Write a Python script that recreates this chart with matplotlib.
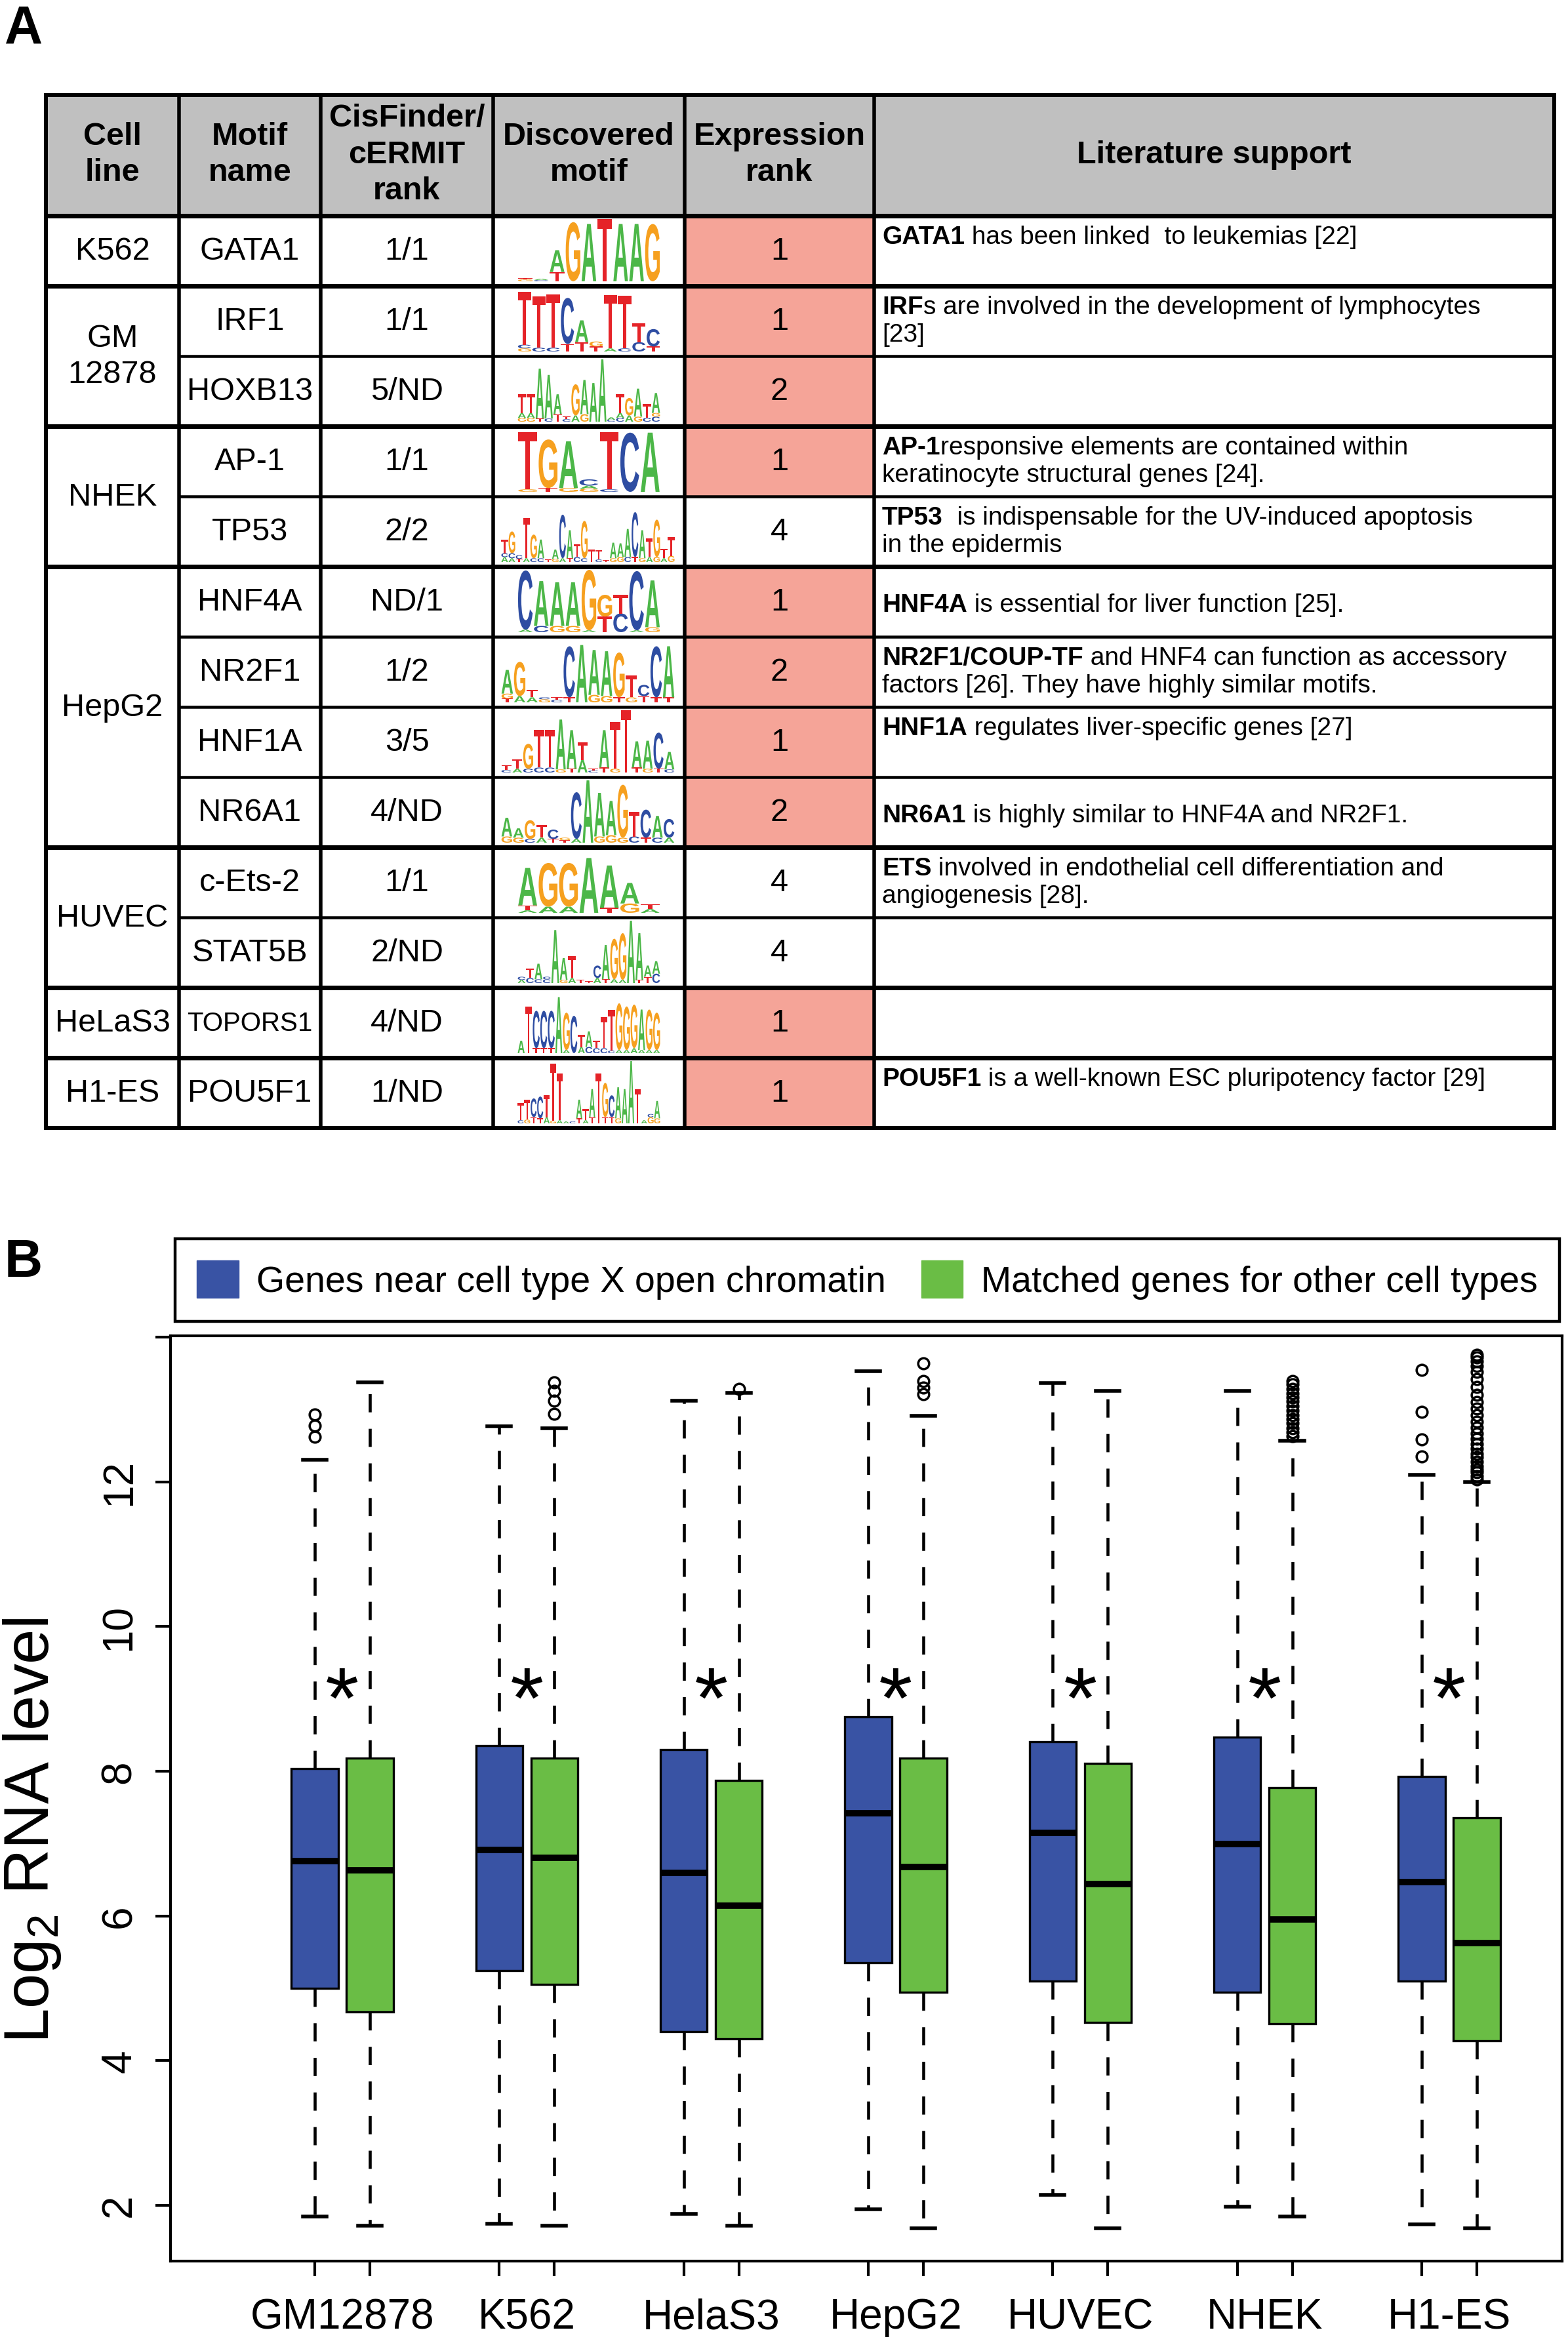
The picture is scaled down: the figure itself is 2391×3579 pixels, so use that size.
import re
import numpy as np
import matplotlib
matplotlib.use('Agg')
import matplotlib.pyplot as plt
from matplotlib.patches import Rectangle, PathPatch, Patch
from matplotlib.textpath import TextPath
from matplotlib.font_manager import FontProperties
from matplotlib.transforms import Affine2D

plt.rcParams['font.family'] = ['Liberation Sans', 'DejaVu Sans']
plt.rcParams['mathtext.default'] = 'regular'
plt.rcParams['lines.scale_dashes'] = False

# ---------------- panel A data ----------------
header_labels = ['Cell\nline', 'Motif\nname', 'CisFinder/\ncERMIT\nrank',
                 'Discovered\nmotif', 'Expression\nrank', 'Literature support']
cell_lines = ['K562', 'GM\n12878', 'NHEK', 'HepG2', 'HUVEC', 'HeLaS3', 'H1-ES']
cell_spans = [1, 2, 2, 4, 2, 1, 1]
motif_names = ['GATA1', 'IRF1', 'HOXB13', 'AP-1', 'TP53', 'HNF4A', 'NR2F1',
               'HNF1A', 'NR6A1', 'c-Ets-2', 'STAT5B', 'TOPORS1', 'POU5F1']
finder_rank = ['1/1', '1/1', '5/ND', '1/1', '2/2', 'ND/1', '1/2',
               '3/5', '4/ND', '1/1', '2/ND', '4/ND', '1/ND']
expr_rank = [1, 1, 2, 1, 4, 1, 2, 1, 2, 4, 4, 1, 1]
lit_support = [
    [('GATA1', ' has been linked  to leukemias [22]')],
    [('IRF', 's are involved in the development of lymphocytes'), ('', '[23]')],
    [],
    [('AP-1', 'responsive elements are contained within'),
     ('', 'keratinocyte structural genes [24].')],
    [('TP53', '  is indispensable for the UV-induced apoptosis'), ('', 'in the epidermis')],
    [('HNF4A', ' is essential for liver function [25].')],
    [('NR2F1/COUP-TF', ' and HNF4 can function as accessory'),
     ('', 'factors [26]. They have highly similar motifs.')],
    [('HNF1A', ' regulates liver-specific genes [27]')],
    [('NR6A1', ' is highly similar to HNF4A and NR2F1.')],
    [('ETS', ' involved in endothelial cell differentiation and'), ('', 'angiogenesis [28].')],
    [],
    [],
    [('POU5F1', ' is a well-known ESC pluripotency factor [29]')],
]
# sequence logos: per column, letters bottom->top with height in % of 2 bits
logos = [
    "G3T2 C2A2 T15A35 G95 A92 T100 A92 A92 G92",
    "G5C6T85 C6T82 C6T86 T12C74 T15A35 T8G8 A5T86 C5T84 C15T30 T8C28",
    "G6A8T30 G6A8T30 T5A80 C5A70 T12A32 C4T4 A10G50 G12A55 A62 A100 C3A4 C6A8T30 A10G28 G8A45 C6T22 C8G6A32",
    "G4T92 T6G78 G6A75 G5A5C10 C4T92 C95 A95",
    "A8C6T22 A6C8G35 T5C6 A6T65 C6G38 C6A30 T4 G5A15 A6C70 T6A45 C8T20 C6G60 T20 C4T15 T3 G6A25 G8A22 C8A45 T8C72 G6A45 A8T30 G8G60 A6T15 G10T30",
    "A4C95 C10A72 G10A70 G10A70 A3G97 T25G35 C30T30 A3C95 G8A75",
    "T6G8A38 A10G55 A8T12 G5C3 C4T4 T8C82 A92 G12A72 G10A72 T8G72 G8T35 T10C18 T8C82 T8A82",
    "C4T8 A6T15 C6G40 C8T60 C8T60 G5A80 T6A62 A20T28 C3T3 T8A60 G6T75 T100 T8A42 G6A45 T6C58 C5A28",
    "G10A30 G8A15 C6G30 A8T20 T6C15 T4G4 A6C75 A100 G10A70 G12A55 G8G85 C10T40 T8C45 C8A35 A8C30",
    "A4T8A60 A10G70 A10G70 A88 T8A68 G15A33 A6T8",
    "A5C5 C8T15 C6A25 C6C4 A85 G5A35 A8T35 T5 T3 A8C20 T6A55 A6G65 A5G75 A100 T5A75 T10A18 C15A20",
    "A20 T75 T8C60 T8C60 T8C60 A90 A5G60 C60 A10T20 C10A25 C8T12 C8T50 C4T65 A5G75 A5G70 A8G70 A5A65 A5G65 A5G60",
    "C5T28 G6T32 T10C30 T8C35 A10T35 G4T92 A5T75 A3 C3 T8A30 A5T18 T10A45 T80 T10G55 T10C35 G8A50 A55 A100 T55 A5 G10C5 G8A28",
]
wide_logos = {'TP53', 'NR2F1', 'HNF1A', 'NR6A1'}
tight_names = {'TOPORS1'}
lit_centered = {5, 8}

# ---------------- panel B data ----------------
cell_types = ['GM12878', 'K562', 'HelaS3', 'HepG2', 'HUVEC', 'NHEK', 'H1-ES']
legend_labels = ['Genes near cell type X open chromatin', 'Matched genes for other cell types']
blue_med = [6.76, 6.91, 6.59, 7.42, 7.15, 6.99, 6.47]
blue_q1 = [5.00, 5.24, 4.40, 5.35, 5.10, 4.94, 5.10]
blue_q3 = [8.04, 8.35, 8.30, 8.75, 8.41, 8.47, 7.93]
blue_lo = [1.84, 1.74, 1.88, 1.94, 2.14, 1.98, 1.73]
blue_hi = [12.31, 12.77, 13.12, 13.53, 13.37, 13.26, 12.10]
blue_out = [[12.62, 12.78, 12.93], [], [], [], [], [], [12.35, 12.59, 12.97, 13.55]]
green_med = [6.63, 6.80, 6.14, 6.68, 6.44, 5.95, 5.62]
green_q1 = [4.67, 5.05, 4.30, 4.94, 4.53, 4.51, 4.27]
green_q3 = [8.18, 8.18, 7.87, 8.18, 8.11, 7.77, 7.36]
green_lo = [1.72, 1.72, 1.72, 1.68, 1.68, 1.84, 1.68]
green_hi = [13.38, 12.74, 13.23, 12.91, 13.26, 12.57, 12.00]
green_out = [[], [12.94, 13.12, 13.26, 13.38], [13.29], [13.21, 13.30, 13.39, 13.64], [],
             [12.63, 12.69, 12.74, 12.81, 12.87, 12.92, 12.99, 13.05, 13.11, 13.17, 13.22, 13.29, 13.35, 13.39],
             [12.03, 12.08, 12.13, 12.17, 12.22, 12.28, 12.34, 12.39, 12.46, 12.52, 12.60, 12.67, 12.75,
              12.83, 12.92, 13.01, 13.10, 13.20, 13.31, 13.42, 13.52, 13.60, 13.67, 13.72, 13.76]]
star_y = 9.21

BLUE = '#3953a4'
GREEN = '#6abd45'
PINK = '#f5a498'
GREY = '#c0c0c0'
BASE_COLORS = {'A': '#4cb748', 'C': '#2e4da2', 'G': '#f6a01f', 'T': '#e52328'}

W, H = 2391, 3580
fig = plt.figure(figsize=(W / 100, H / 100), dpi=100, facecolor='white')

# full-figure axes in pixel units for the table
tab = fig.add_axes([0, 0, 1, 1])
tab.set_xlim(0, W)
tab.set_ylim(H, 0)
tab.axis('off')

col_edges = [70, 273, 489, 752, 1044, 1333, 2370]
t_top, h_bot, row_h = 146, 330, 107
n_rows = len(motif_names)
t_bot = h_bot + n_rows * row_h
px = 0.72  # px -> pt

# header
tab.add_patch(Rectangle((col_edges[0], t_top), col_edges[-1] - col_edges[0], h_bot - t_top,
                        facecolor=GREY, edgecolor='none'))
for i, lab in enumerate(header_labels):
    xc = (col_edges[i] + col_edges[i + 1]) / 2
    tab.text(xc, (t_top + h_bot) / 2 - 2, lab, ha='center', va='center', fontsize=35,
             weight='bold', linespacing=1.3)

# expression colour cells
for r, rk in enumerate(expr_rank):
    if rk <= 2:
        tab.add_patch(Rectangle((col_edges[4], h_bot + r * row_h), col_edges[5] - col_edges[4], row_h,
                                facecolor=PINK, edgecolor='none'))

# cell line (merged cells)
start = 0
for name, span in zip(cell_lines, cell_spans):
    yc = h_bot + (start + span / 2) * row_h
    tab.text((col_edges[0] + col_edges[1]) / 2, yc, name, ha='center', va='center',
             fontsize=35, linespacing=1.3)
    start += span

for r in range(n_rows):
    yc = h_bot + (r + 0.5) * row_h
    fs = 29 if motif_names[r] in tight_names else 35
    tab.text((col_edges[1] + col_edges[2]) / 2, yc, motif_names[r], ha='center', va='center', fontsize=fs)
    tab.text((col_edges[2] + col_edges[3]) / 2, yc, finder_rank[r], ha='center', va='center', fontsize=35)
    tab.text((col_edges[4] + col_edges[5]) / 2, yc, str(expr_rank[r]), ha='center', va='center', fontsize=35)

# literature support
for r, lines in enumerate(lit_support):
    top = h_bot + r * row_h
    baselines = [top + row_h / 2 + 14] if r in lit_centered else [top + 42, top + 84]
    for (bold, rest), yb in zip(lines, baselines):
        if bold:
            t = tab.text(1345, yb, bold, fontsize=28, weight='bold', va='baseline', ha='left')
            if rest:
                tab.annotate(rest, xy=(1, 0), xycoords=t, va='bottom', ha='left', fontsize=28)
        else:
            tab.text(1345, yb, rest, fontsize=28, va='baseline', ha='left')

# sequence logos
LOGO_FP = FontProperties(family='Liberation Sans', weight='bold')
GLYPHS = {b: TextPath((0, 0), b, size=100, prop=LOGO_FP) for b in 'ACGT'}


def draw_logo(ax, spec, x0, x1, ybase, unit):
    cols = spec.split()
    cw = (x1 - x0) / len(cols)
    for i, col in enumerate(cols):
        y = ybase
        for base, h in re.findall(r'([ACGT])(\d+)', col):
            hh = int(h) / 100 * unit
            path = GLYPHS[base]
            bb = path.get_extents()
            tr = (Affine2D().translate(-bb.x0, -bb.y0)
                  .scale(cw * 0.92 / bb.width, -hh / bb.height)
                  .translate(x0 + i * cw + cw * 0.04, y))
            ax.add_patch(PathPatch(tr.transform_path(path), facecolor=BASE_COLORS[base],
                                   edgecolor='none'))
            y -= hh


for r, spec in enumerate(logos):
    cl = col_edges[3]
    if motif_names[r] in wide_logos:
        x0, x1 = cl + 12, cl + 277
    else:
        x0, x1 = cl + 37, cl + 255
    draw_logo(tab, spec, x0, x1, h_bot + (r + 1) * row_h - 7, 95)

# grid lines
ends = np.cumsum(cell_spans)
for b in range(1, n_rows):
    y = h_bot + b * row_h
    if b in ends:
        tab.plot([col_edges[0], col_edges[-1]], [y, y], color='black', lw=7 * px, solid_capstyle='butt')
    else:
        tab.plot([col_edges[1], col_edges[-1]], [y, y], color='black', lw=4.5 * px, solid_capstyle='butt')
tab.plot([col_edges[0], col_edges[-1]], [h_bot, h_bot], color='black', lw=7 * px, solid_capstyle='butt')
for x in col_edges[1:-1]:
    tab.plot([x, x], [t_top, t_bot], color='black', lw=5.5 * px, solid_capstyle='butt')
tab.add_patch(Rectangle((col_edges[0], t_top), col_edges[-1] - col_edges[0], t_bot - t_top,
                        facecolor='none', edgecolor='black', lw=6 * px))

# panel letters
fig.text(7 / W, 1 - 65 / H, 'A', fontsize=58, weight='bold', ha='left', va='baseline')
fig.text(7 / W, 1 - 1947 / H, 'B', fontsize=58, weight='bold', ha='left', va='baseline')

# ---------------- panel B ----------------
ax = fig.add_axes([260 / W, 1 - 3448.6 / H, (2382 - 260) / W, (3448.6 - 2038) / H])
pos_blue = np.arange(len(cell_types)) * 3.35 + 1
pos_green = pos_blue + 1


def stats(med, q1, q3, lo, hi, out):
    return [dict(med=m, q1=a, q3=b, whislo=l, whishi=h, fliers=o)
            for m, a, b, l, h, o in zip(med, q1, q3, lo, hi, out)]


common = dict(widths=0.85, patch_artist=True, showfliers=True, capwidths=0.43,
              medianprops=dict(color='black', linewidth=7, solid_capstyle='butt'),
              whiskerprops=dict(color='black', linewidth=3.3, linestyle=(0, (20, 18))),
              capprops=dict(color='black', linewidth=4),
              flierprops=dict(marker='o', markerfacecolor='none', markeredgecolor='black',
                              markersize=12, markeredgewidth=2.5))
ax.bxp(stats(blue_med, blue_q1, blue_q3, blue_lo, blue_hi, blue_out), positions=pos_blue,
       boxprops=dict(facecolor=BLUE, edgecolor='black', linewidth=2.4), **common)
ax.bxp(stats(green_med, green_q1, green_q3, green_lo, green_hi, green_out), positions=pos_green,
       boxprops=dict(facecolor=GREEN, edgecolor='black', linewidth=2.4), **common)

for pb in pos_blue:
    ax.text(pb + 0.5, star_y - 0.6, '*', ha='center', va='baseline', fontsize=95)

ax.set_xlim(-1.62, 23.65)
ax.set_ylim(1.23, 14.02)
ax.set_yticks(range(2, 15, 2))
ax.set_yticklabels([str(v) for v in range(2, 13, 2)] + [''])
ax.tick_params(axis='y', length=16.5, width=3, labelsize=46, pad=18, labelrotation=90)
for lab in ax.get_yticklabels():
    lab.set_va('center')
ax.set_xticks(pos_blue + 0.5)
ax.set_xticklabels(cell_types)
ax.set_xticks(np.concatenate([pos_blue, pos_green]), minor=True)
ax.tick_params(axis='x', which='major', length=0, labelsize=46, pad=40)
ax.tick_params(axis='x', which='minor', length=16.5, width=3)
for s in ax.spines.values():
    s.set_linewidth(3)

fig.text(2 / W, 1 - 2791 / H, 'Log$_2$ RNA level', rotation=90, fontsize=69, ha='left', va='center')

handles = [Patch(facecolor=BLUE, edgecolor=BLUE), Patch(facecolor=GREEN, edgecolor=GREEN)]
leg = fig.legend(handles, legend_labels, loc='upper left',
                 bbox_to_anchor=(267 / W, 1 - 1890 / H, (2378 - 267) / W, 0), mode='expand',
                 ncol=2, fontsize=40, frameon=True, fancybox=False, edgecolor='black',
                 framealpha=1, handlelength=1.14, handleheight=1.18, handletextpad=0.5,
                 columnspacing=0.5, borderpad=0.6, borderaxespad=0)
leg.get_frame().set_linewidth(3.2)

fig.savefig('out.png', dpi=100, facecolor='white')
